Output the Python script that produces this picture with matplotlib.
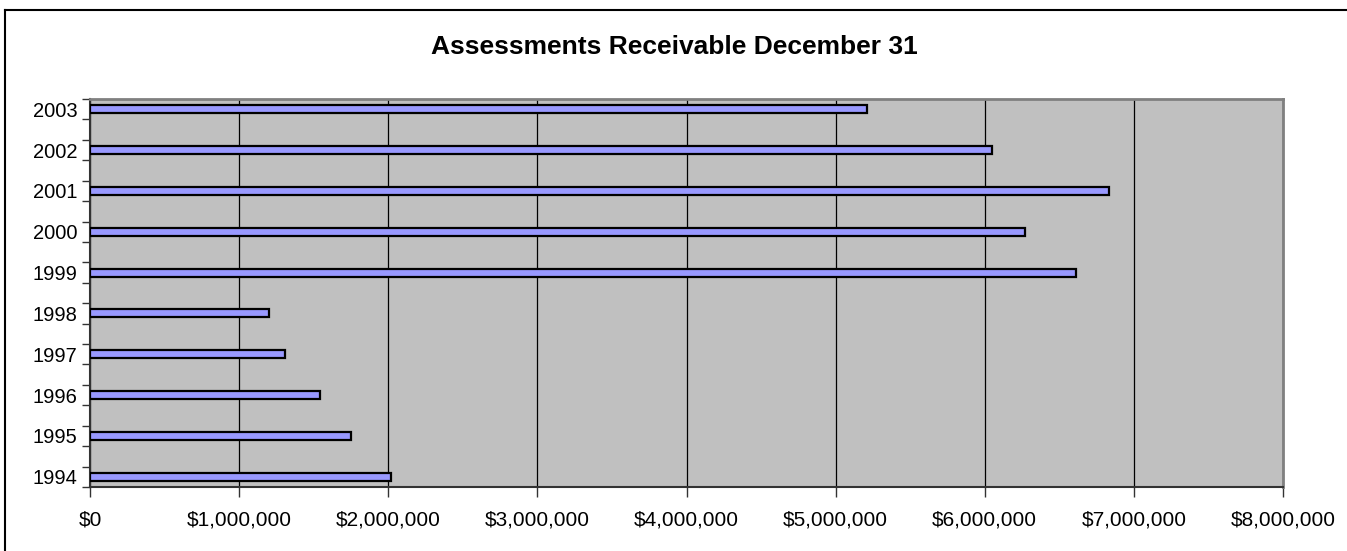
import numpy as np
import matplotlib.pyplot as plt
from matplotlib.ticker import FuncFormatter, MultipleLocator
from matplotlib.lines import Line2D

plt.rcParams['font.family'] = ['Liberation Sans', 'DejaVu Sans']

# ---------- data ----------
years = ['2003', '2002', '2001', '2000', '1999', '1998', '1997', '1996', '1995', '1994']
receivable = [5210000, 6050000, 6830000, 6270000, 6610000,
              1200000, 1310000, 1540000, 1750000, 2020000]

# each year takes every other slot (blank slot between, as in the Excel chart)
slots = np.arange(len(years)) * 2

fig = plt.figure(figsize=(13.47, 5.51), dpi=100)
ax = fig.add_axes([90 / 1347, 1 - 487 / 551, (1283 - 90) / 1347, (487 - 99) / 551])

ax.set_facecolor('#C0C0C0')
ax.barh(slots, receivable, height=0.39, color='#9999FF', edgecolor='black',
        linewidth=1.6, zorder=3)

ax.set_xlim(0, 8000000)
ax.set_ylim(slots[-1] + 0.5, -0.5)

ax.xaxis.set_major_locator(MultipleLocator(1000000))
ax.xaxis.set_major_formatter(FuncFormatter(lambda v, p: f'${v:,.0f}'))
ax.grid(axis='x', color='black', linewidth=0.9, zorder=1)

ax.set_yticks(slots)
ax.set_yticklabels(years)
ax.set_yticks(np.arange(-0.5, slots[-1] + 1, 1), minor=True)
ax.tick_params(axis='y', which='major', length=0, pad=9, labelsize=14.5)
ax.tick_params(axis='y', which='minor', length=6, width=1, color='#333333', direction='out')
ax.tick_params(axis='x', length=7, width=1, color='#333333', direction='out', pad=10, labelsize=15)

for side in ['left', 'bottom']:
    ax.spines[side].set_color('#333333')
    ax.spines[side].set_linewidth(1.5)
for side in ['top', 'right']:
    ax.spines[side].set_color('#808080')
    ax.spines[side].set_linewidth(2)

fig.text(0.501, 1 - 53.5 / 551, 'Assessments Receivable December 31',
         ha='center', va='baseline', fontsize=19, fontweight='bold')

# outer chart frame (left and top edges visible)
fig.add_artist(Line2D([5 / 1347, 5 / 1347], [0, 1 - 10 / 551], color='black', linewidth=1.5))
fig.add_artist(Line2D([5 / 1347, 1], [1 - 10 / 551, 1 - 10 / 551], color='black', linewidth=1.5))

fig.savefig('out.png', dpi=100)
